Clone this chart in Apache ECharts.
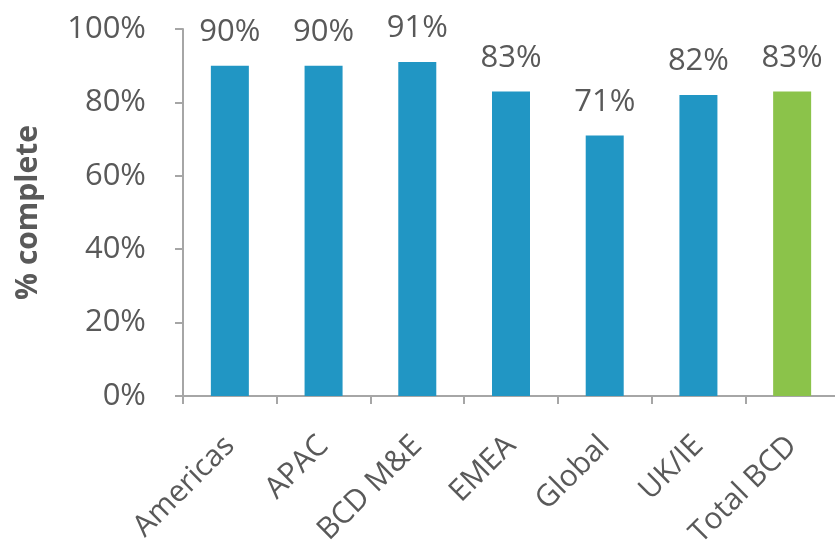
<!DOCTYPE html>
<html><head><meta charset="utf-8">
<script src="https://cdn.jsdelivr.net/npm/echarts@6/dist/echarts.min.js"></script>
<style>html,body{margin:0;padding:0;background:#fff}#c{width:835px;height:552px}</style>
</head><body><div id="c"></div>
<script>
const categories = ['Americas','APAC','BCD M&E','EMEA','Global','UK/IE','Total BCD'];
const values = [90, 90, 91, 83, 71, 82, 83];
const highlightIndex = 6;
const yTicks = [0, 20, 40, 60, 80, 100];

const blue = '#2196c4', green = '#8bc34a', txt = '#595959', axis = '#a6a6a6';
const font = 'Open Sans';
const chart = echarts.init(document.getElementById('c'));
chart.setOption({
  animation: false,
  grid: {left: 183, right: -4, top: 29, bottom: 156, containLabel: false, outerBoundsMode: 'none'},
  xAxis: {
    type: 'category', data: categories,
    axisLine: {lineStyle: {color: axis, width: 2}},
    axisTick: {show: true, length: 8, lineStyle: {color: axis, width: 2}},
    axisLabel: {rotate: 45, margin: 45, color: txt, fontSize: 30, fontFamily: font, interval: 0}
  },
  yAxis: {
    type: 'value', min: yTicks[0], max: yTicks[yTicks.length-1], interval: 20,
    name: '% complete', nameLocation: 'middle', nameGap: 140,
    nameTextStyle: {color: txt, fontSize: 30, fontWeight: 'bold', fontFamily: font},
    splitLine: {show: false},
    axisLine: {show: true, lineStyle: {color: axis, width: 2}},
    axisTick: {show: true, length: 8, lineStyle: {color: axis, width: 2}},
    axisLabel: {margin: 37, color: txt, fontSize: 31, fontFamily: font, formatter: v => v + '%'}
  },
  series: [{
    type: 'bar', barWidth: 38,
    data: values.map((v, i) => ({value: v, itemStyle: {color: i === highlightIndex ? green : blue}})),
    label: {show: true, position: 'top', distance: 18, color: txt, fontSize: 31, fontFamily: font, formatter: p => p.value + '%'}
  }]
});
</script></body></html>
